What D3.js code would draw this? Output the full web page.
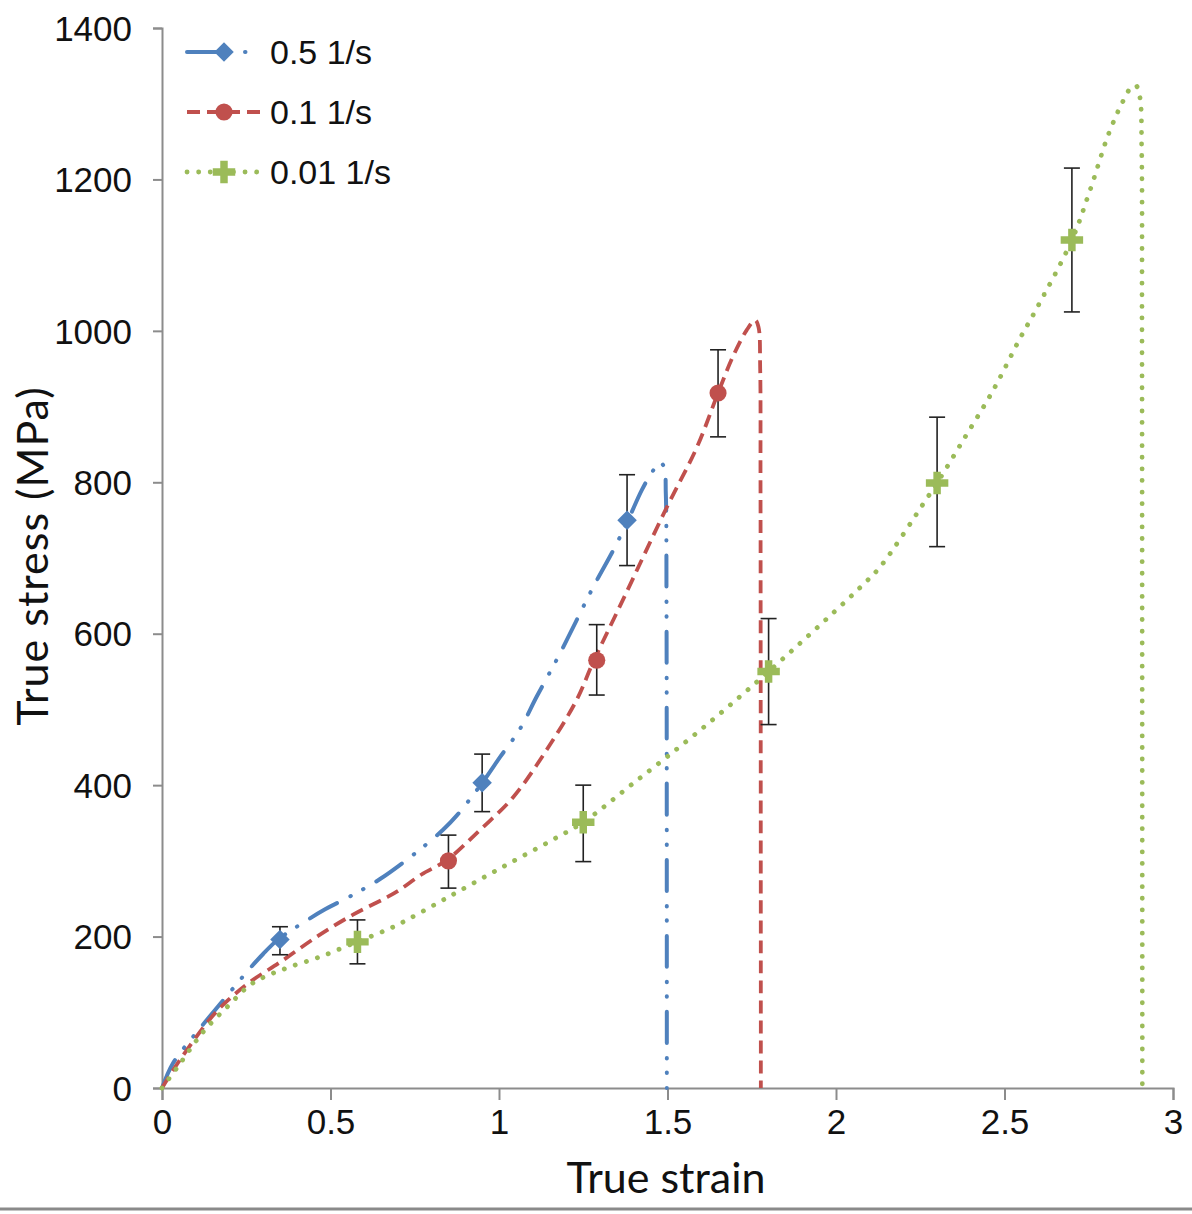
<!DOCTYPE html>
<html><head><meta charset="utf-8">
<script src="https://cdn.jsdelivr.net/npm/d3@7"></script>
<style>body{margin:0;background:#fff}svg{display:block}</style>
</head><body>
<script>
// ---- data ----
const seriesNames = ["0.5 1/s", "0.1 1/s", "0.01 1/s"];
const xTicks = [0, 0.5, 1, 1.5, 2, 2.5, 3];
const yTicks = [0, 200, 400, 600, 800, 1000, 1200, 1400];

const curve05 = [[0,0],[0.033,33],[0.1,72],[0.137,92],[0.193,122],[0.255,155],[0.3,177],[0.344,196],[0.4,213],[0.484,236],[0.558,253],[0.647,276],[0.757,312],[0.834,341],[0.875,360],[0.95,403],[1.003,437],[1.062,474],[1.112,517],[1.181,574],[1.28,662],[1.34,711],[1.383,750],[1.424,790],[1.455,814],[1.478,826],[1.49,820],[1.495,785],[1.497,650],[1.498,0]];
const curve01 = [[0,0],[0.05,35],[0.148,94],[0.196,116],[0.261,140],[0.35,166],[0.46,200],[0.567,229],[0.668,252],[0.706,262],[0.77,282],[0.845,301],[0.944,341],[1.042,384],[1.142,447],[1.231,513],[1.279,562],[1.368,645],[1.498,767],[1.588,847],[1.65,918],[1.694,966],[1.735,1001],[1.76,1014],[1.77,1005],[1.775,950],[1.776,800],[1.777,0]];
const curve001 = [[0,0],[0.05,30],[0.122,74],[0.2,110],[0.261,136],[0.315,149],[0.38,160],[0.474,174],[0.578,193],[0.668,209],[0.706,217],[0.845,251],[1.003,290],[1.16,328],[1.25,351],[1.4,403],[1.587,469],[1.8,550],[2.09,669],[2.136,691],[2.27,779],[2.3,799],[2.378,856],[2.467,922],[2.546,990],[2.596,1030],[2.7,1120],[2.754,1186],[2.808,1259],[2.849,1301],[2.875,1321],[2.89,1324],[2.902,1308],[2.907,1240],[2.908,1000],[2.909,0]];

const mark05x = [0.35, 0.95, 1.38], mark05y = [196, 403, 750], hi05 = [213, 441, 810], lo05 = [176, 365, 690];
const mark01x = [0.85, 1.29, 1.65], mark01y = [300, 565, 918], hi01 = [334, 612, 975], lo01 = [264, 519, 860];
const mark001x = [0.58, 1.25, 1.8, 2.3, 2.7], mark001y = [193, 351, 550, 799, 1120], hi001 = [222, 400, 620, 886, 1215], lo001 = [164, 299, 480, 715, 1025];

// ---- chart ----
const W = 1192, H = 1214;
const svg = d3.select("body").append("svg").attr("width", W).attr("height", H);
const x = d3.scaleLinear().domain([0, 3]).range([162, 1173]);
const y = d3.scaleLinear().domain([0, 1400]).range([1088, 28]);
const axisColor = "#8c8c8c";
const tickFont = "'Liberation Sans', Arial, sans-serif";
const titleFont = "Lato, 'Open Sans', sans-serif";

// axes
const xa = svg.append("g").attr("transform", `translate(0,${y(0)})`)
  .call(d3.axisBottom(x).tickValues(xTicks).tickSize(12).tickPadding(9).tickFormat(d3.format("")));
const ya = svg.append("g").attr("transform", `translate(${x(0)},0)`)
  .call(d3.axisLeft(y).tickValues(yTicks).tickSize(9).tickPadding(21).tickFormat(d3.format("")));
[xa, ya].forEach(g => {
  g.select(".domain").attr("stroke", axisColor).attr("stroke-width", 2);
  g.selectAll(".tick line").attr("stroke", axisColor).attr("stroke-width", 2);
  g.selectAll(".tick text").attr("fill", "#111").style("font-family", tickFont).style("font-size", "35px");
});
ya.selectAll(".tick text").attr("dy", "0.35em");
xa.selectAll(".tick text").attr("dy", "0.71em");

// axis titles
svg.append("text").attr("x", 666).attr("y", 1193).attr("text-anchor", "middle")
  .style("font-family", titleFont).style("font-size", "43px").attr("fill", "#111").text("True strain");
svg.append("text").attr("transform", `translate(48,556) rotate(-90)`).attr("text-anchor", "middle")
  .style("font-family", titleFont).style("font-size", "43px").style("letter-spacing", "1px").attr("fill", "#111").text("True stress (MPa)");

// bottom border
svg.append("line").attr("x1", 0).attr("x2", W).attr("y1", 1209).attr("y2", 1209).attr("stroke", "#8a8a8a").attr("stroke-width", 3);

const series = [
  {name: seriesNames[0], curve: curve05, mx: mark05x, my: mark05y, hi: hi05, lo: lo05, color: "#4F81BD", dash: "31,15,0.5,14,0.5,15", width: 4, cap: "round", sym: d3.symbolSquare, size: 190, rot: 45},
  {name: seriesNames[1], curve: curve01, mx: mark01x, my: mark01y, hi: hi01, lo: lo01, color: "#C0504D", dash: "13,7", width: 3.8, cap: "butt", sym: d3.symbolCircle, size: 230, rot: 0},
  {name: seriesNames[2], curve: curve001, mx: mark001x, my: mark001y, hi: hi001, lo: lo001, color: "#9BBB59", dash: "0.1,11.5", width: 4.8, cap: "round", sym: d3.symbolCross, size: 280, rot: 0}
];

const line = d3.line().x(d => x(d[0])).y(d => y(d[1])).curve(d3.curveCatmullRom.alpha(0.5));

series.forEach(s => {
  svg.append("path").attr("d", line(s.curve)).attr("fill", "none")
    .attr("stroke", s.color).attr("stroke-width", s.width).attr("stroke-dasharray", s.dash).attr("stroke-linecap", s.cap);
});

// error bars + markers
series.forEach(s => {
  const g = svg.append("g");
  s.mx.forEach((xv, i) => {
    g.append("line").attr("x1", x(xv)).attr("x2", x(xv)).attr("y1", y(s.lo[i])).attr("y2", y(s.hi[i])).attr("stroke", "#222").attr("stroke-width", 1.6);
    [s.lo[i], s.hi[i]].forEach(v => {
      g.append("line").attr("x1", x(xv) - 8).attr("x2", x(xv) + 8).attr("y1", y(v)).attr("y2", y(v)).attr("stroke", "#222").attr("stroke-width", 1.6);
    });
    g.append("path").attr("d", d3.symbol().type(s.sym).size(s.size)())
      .attr("transform", `translate(${x(xv)},${y(s.my[i])}) rotate(${s.rot})`).attr("fill", s.color);
  });
});

// legend
const leg = svg.append("g");
series.forEach((s, i) => {
  const ly = 52 + i * 60;
  leg.append("line").attr("x1", 187).attr("x2", 262).attr("y1", ly).attr("y2", ly)
    .attr("stroke", s.color).attr("stroke-width", s.width)
    .attr("stroke-dasharray", i === 0 ? "38,20,0.5,20" : s.dash).attr("stroke-linecap", s.cap);
  leg.append("path").attr("d", d3.symbol().type(s.sym).size(s.size)()).attr("transform", `translate(224,${ly}) rotate(${s.rot})`).attr("fill", s.color);
  leg.append("text").attr("x", 270).attr("y", ly).attr("dy", "0.35em")
    .style("font-family", tickFont).style("font-size", "34px").attr("fill", "#111").text(s.name);
});
</script>
</body></html>
